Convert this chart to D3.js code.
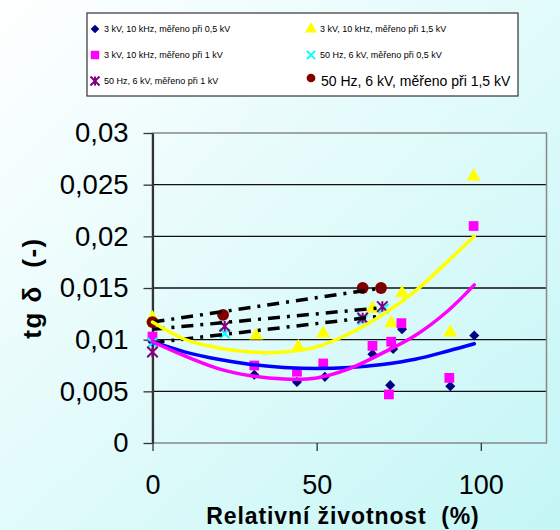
<!DOCTYPE html>
<html>
<head>
<meta charset="utf-8">
<script src="https://cdn.jsdelivr.net/npm/d3@7"></script>
<style>
  body { margin: 0; background: #fff; }
  text { font-family: Arial, "Liberation Sans", sans-serif; fill: #000; white-space: pre; }
</style>
</head>
<body>
<svg id="chart" width="560" height="530"></svg>
<script>
// ---- data ----
const seriesNames = [
  '3 kV, 10 kHz, měřeno při 0,5 kV',
  '3 kV, 10 kHz, měřeno při 1,5 kV',
  '3 kV, 10 kHz, měřeno při 1 kV',
  '50 Hz, 6 kV, měřeno při 0,5 kV',
  '50 Hz, 6 kV, měřeno při 1 kV',
  '50 Hz, 6 kV, měřeno při 1,5 kV'
];

// [relative life %, tg delta]
const diamond05 = [[0, 0.0098], [31, 0.0066], [44, 0.0059], [52.5, 0.0064], [67, 0.0086],
  [72.4, 0.0056], [73.3, 0.0091], [76, 0.011], [90.7, 0.0055], [98, 0.0104]];
const triangle15 = [[0, 0.0121], [31.6, 0.0104], [44.4, 0.0093], [52, 0.0106], [67, 0.013],
  [72.7, 0.0116], [76, 0.0145], [90.7, 0.0107], [97.8, 0.0258]];
const square1 = [[0, 0.0103], [31, 0.0075], [44, 0.0069], [52, 0.0077], [67, 0.0094],
  [72.7, 0.0098], [75.8, 0.0116], [72, 0.0047], [90.4, 0.0063], [97.8, 0.021]];
const cross05 = [[0, 0.0097], [22, 0.0106], [64, 0.0119], [70.4, 0.013]];
const star1 = [[0, 0.0088], [22, 0.0113], [64, 0.0121], [70, 0.0132]];
const circle15 = [[0, 0.0117], [21.5, 0.0124], [64, 0.015], [69.6, 0.015]];

// trend lines
const trendBlue = [[0, 0.0098], [10, 0.0088], [20, 0.0081], [30, 0.0076], [40, 0.0073], [50, 0.0072],
  [60, 0.0073], [70, 0.0076], [80, 0.0081], [90, 0.0089], [98, 0.0096]];
const trendPink = [[0, 0.0098], [10, 0.0084], [20, 0.0072], [30, 0.0065], [40, 0.0062], [50, 0.0063],
  [60, 0.0072], [70, 0.0087], [80, 0.0104], [90, 0.0128], [98, 0.0153]];
const trendYellow = [[0, 0.0117], [10, 0.0100], [20, 0.0092], [30, 0.0088], [40, 0.0088], [50, 0.0093],
  [60, 0.0106], [70, 0.0124], [80, 0.0147], [90, 0.0176], [98, 0.0200]];
const trendDashed = [
  [[0, 0.0117], [70, 0.0150]],
  [[0, 0.0110], [70, 0.0131]],
  [[0, 0.0097], [70, 0.0123]]
];

const xTicks = [0, 50, 100];
const yTicks = [0, 0.005, 0.01, 0.015, 0.02, 0.025, 0.03];

// ---- layout ----
const svg = d3.select('#chart');
const plot = { left: 152.5, right: 546.5, top: 133, bottom: 443 };

const defs = svg.append('defs');
const grad = defs.append('linearGradient')
  .attr('id', 'bg')
  .attr('x1', 0).attr('y1', 0).attr('x2', 1).attr('y2', 1);
grad.append('stop').attr('offset', '0%').attr('stop-color', '#ffffff');
grad.append('stop').attr('offset', '100%').attr('stop-color', '#c4f6f6');

svg.append('rect')
  .attr('width', 560).attr('height', 530)
  .attr('fill', 'url(#bg)');

const x = d3.scaleLinear().domain([0, 120]).range([plot.left, plot.right]);
const y = d3.scaleLinear().domain([0, 0.03]).range([plot.bottom, plot.top]);

const comma = d => String(d).replace('.', ',');

// gridlines
svg.append('g')
  .selectAll('line')
  .data(yTicks.filter(d => d > 0 && d < 0.03))
  .join('line')
  .attr('x1', plot.left).attr('x2', plot.right)
  .attr('y1', d => y(d)).attr('y2', d => y(d))
  .attr('stroke', '#111')
  .attr('stroke-width', 1.3);

// plot border
svg.append('rect')
  .attr('x', plot.left).attr('y', plot.top)
  .attr('width', plot.right - plot.left).attr('height', plot.bottom - plot.top)
  .attr('fill', 'none')
  .attr('stroke', '#888')
  .attr('stroke-width', 1.5);

// axes
const xAxis = svg.append('g')
  .attr('transform', `translate(0,${plot.bottom})`)
  .call(d3.axisBottom(x).tickValues(xTicks).tickSize(8).tickSizeOuter(0).tickPadding(24).tickFormat(comma));
xAxis.select('.domain').remove();
xAxis.selectAll('.tick line').attr('stroke', '#333').attr('stroke-width', 1.3);
xAxis.selectAll('.tick text').attr('font-size', 27);

const yAxis = svg.append('g')
  .attr('transform', `translate(${plot.left},0)`)
  .call(d3.axisLeft(y).tickValues(yTicks).tickSize(9).tickSizeOuter(0).tickPadding(15).tickFormat(comma));
yAxis.select('.domain')
  .attr('stroke', '#333')
  .attr('stroke-width', 2.2);
yAxis.selectAll('.tick line').attr('stroke', '#333').attr('stroke-width', 1.3);
yAxis.selectAll('.tick text').attr('font-size', 27.5);

// axis titles
svg.append('text')
  .attr('x', 343).attr('y', 524)
  .attr('text-anchor', 'middle')
  .attr('font-size', 23).attr('font-weight', 'bold')
  .attr('letter-spacing', 0.9)
  .text('Relativní životnost  (%)');

svg.append('text')
  .attr('transform', 'translate(41,288) rotate(-90)')
  .attr('text-anchor', 'middle')
  .attr('font-size', 26).attr('font-weight', 'bold')
  .attr('letter-spacing', 1.5)
  .text('tg δ  (-)');

// marker shapes
const diamondSymbol = {
  draw(ctx, size) {
    const r = Math.sqrt(size) / 2 * 1.3;
    ctx.moveTo(0, -r); ctx.lineTo(r, 0); ctx.lineTo(0, r); ctx.lineTo(-r, 0); ctx.closePath();
  }
};
const starSymbol = {
  draw(ctx, size) {
    const r = Math.sqrt(size) / 2;
    ctx.moveTo(-r, -r); ctx.lineTo(r, r);
    ctx.moveTo(-r, r); ctx.lineTo(r, -r);
    ctx.moveTo(0, -r); ctx.lineTo(0, r);
  }
};
const crossSymbol = {
  draw(ctx, size) {
    const r = Math.sqrt(size) / 2;
    ctx.moveTo(-r, -r); ctx.lineTo(r, r);
    ctx.moveTo(-r, r); ctx.lineTo(r, -r);
  }
};

const styles = [
  { type: diamondSymbol, size: 60, fill: '#000080', stroke: 'none' },
  { type: d3.symbolTriangle, size: 85, fill: '#ffff00', stroke: 'none' },
  { type: d3.symbolSquare, size: 95, fill: '#ff00ff', stroke: 'none' },
  { type: crossSymbol, size: 90, fill: 'none', stroke: '#00ffff' },
  { type: starSymbol, size: 110, fill: 'none', stroke: '#800080' },
  { type: d3.symbolCircle, size: 110, fill: '#800000', stroke: 'none' }
];
const seriesData = [diamond05, triangle15, square1, cross05, star1, circle15];

const markers = svg.append('g');
seriesData.forEach((data, i) => {
  const st = styles[i];
  markers.append('g')
    .selectAll('path')
    .data(data)
    .join('path')
    .attr('transform', d => `translate(${x(d[0])},${y(d[1])})`)
    .attr('d', d3.symbol(st.type, st.size))
    .attr('fill', st.fill)
    .attr('stroke', st.stroke)
    .attr('stroke-width', 2);
});

// trend lines on top of the markers
const line = d3.line()
  .x(d => x(d[0]))
  .y(d => y(d[1]))
  .curve(d3.curveCatmullRom);

const trends = svg.append('g').attr('fill', 'none');
trends.selectAll('path.dash')
  .data(trendDashed)
  .join('path')
  .attr('class', 'dash')
  .attr('d', line)
  .attr('stroke', '#000')
  .attr('stroke-width', 3.5)
  .attr('stroke-dasharray', '12,7,3,7');

[[trendBlue, '#0000ff'], [trendPink, '#ff00ff'], [trendYellow, '#ffff00']].forEach(([data, color]) => {
  trends.append('path')
    .attr('d', line(data))
    .attr('stroke', color)
    .attr('stroke-width', 3.5)
    .attr('stroke-linecap', 'round');
});

// legend
const legend = svg.append('g');
legend.append('rect')
  .attr('x', 87).attr('y', 13)
  .attr('width', 431).attr('height', 83)
  .attr('fill', '#fff')
  .attr('stroke', '#333')
  .attr('stroke-width', 1.2);

const items = legend.selectAll('g.item')
  .data(seriesNames)
  .join('g')
  .attr('class', 'item')
  .attr('transform', (d, i) => `translate(${i % 2 === 0 ? 95 : 311},${29 + Math.floor(i / 2) * 26})`);

items.append('path')
  .attr('d', (d, i) => d3.symbol(styles[i].type, i === 5 ? 60 : styles[i].size * 0.75)())
  .attr('transform', (d, i) => i === 5 ? 'translate(0,-3)' : null)
  .attr('fill', (d, i) => styles[i].fill)
  .attr('stroke', (d, i) => styles[i].stroke)
  .attr('stroke-width', 2);

items.append('text')
  .attr('x', (d, i) => i === 5 ? 10 : 9)
  .attr('y', (d, i) => i === 5 ? 5 : 3)
  .attr('font-size', (d, i) => i === 5 ? 14 : 9)
  .text(d => d);
</script>
</body>
</html>
